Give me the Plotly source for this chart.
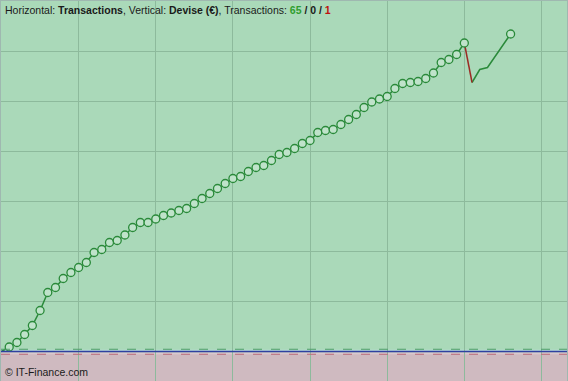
import plotly.graph_objects as go

# Data: equity curve per transaction (value in €, arbitrary units)
transactions = list(range(0, 67))
equity = [0, 9, 18, 34, 52, 82, 118, 128, 146, 158, 168, 178, 198, 204, 218, 222,
          233, 248, 258, 258, 265, 272, 277, 282, 286, 296, 306, 316, 326, 336,
          346, 350, 360, 368, 372, 382, 394, 398, 406, 416, 422, 438, 442, 444,
          454, 464, 474, 488, 499, 505, 510, 526, 536, 538, 540, 546, 557, 578,
          584, 594, 617, 538, 564, 568, 591, 613, 635]
marker_idx = list(range(1, 61)) + [66]
loss_idx = [60, 61]
header_counts = {"win": 65, "even": 0, "loss": 1}

GREEN = "#2a8a3a"
RED = "#9b2b25"
BG = "#aad9b9"
PINK = "#cfbac0"
GRID = "#8dba9c"

fig = go.Figure()
# green segments
fig.add_trace(go.Scatter(x=transactions[:61], y=equity[:61], mode="lines",
                         line=dict(color=GREEN, width=1.5), hoverinfo="skip"))
fig.add_trace(go.Scatter(x=transactions[61:], y=equity[61:], mode="lines",
                         line=dict(color=GREEN, width=1.5), hoverinfo="skip"))
# losing transaction
fig.add_trace(go.Scatter(x=[transactions[i] for i in loss_idx],
                         y=[equity[i] for i in loss_idx], mode="lines",
                         line=dict(color=RED, width=1.5), hoverinfo="skip"))
# markers
fig.add_trace(go.Scatter(x=[transactions[i] for i in marker_idx],
                         y=[equity[i] for i in marker_idx], mode="markers",
                         marker=dict(symbol="circle", size=8, color="#bfe3ca",
                                     line=dict(color=GREEN, width=1.3)),
                         hoverinfo="skip"))

shapes = [
    dict(type="rect", xref="paper", yref="y", x0=0, x1=1, y0=-70, y1=-2,
         fillcolor=PINK, line=dict(width=0), layer="below"),
    dict(type="rect", xref="paper", yref="y", x0=0, x1=1, y0=-2, y1=-5.5,
         fillcolor="#dac9ce", line=dict(width=0), layer="below"),
    dict(type="rect", xref="paper", yref="y", x0=0, x1=1, y0=0, y1=3.5,
         fillcolor="#bcdcdc", line=dict(width=0), layer="below"),
    dict(type="line", xref="paper", yref="y", x0=0, x1=1, y0=4.5, y1=4.5,
         line=dict(color="#4f9e68", width=1, dash="dash")),
    dict(type="line", xref="paper", yref="y", x0=0, x1=1, y0=-5.5, y1=-5.5,
         line=dict(color="#b86a78", width=1, dash="dash")),
    dict(type="line", xref="paper", yref="y", x0=0, x1=1, y0=0, y1=0,
         line=dict(color="#3040a0", width=1.5)),
]

header = ("Horizontal: <b>Transactions</b>, Vertical: <b>Devise (€)</b>, Transactions: "
          f"<b><span style='color:#2f9e2f'>{header_counts['win']}</span> / "
          f"{header_counts['even']} / "
          f"<span style='color:#c01010'>{header_counts['loss']}</span></b>")

fig.update_layout(
    width=568, height=381,
    margin=dict(l=1, r=1, t=1, b=0),
    paper_bgcolor="#9fb8b0",
    plot_bgcolor=BG,
    showlegend=False,
    shapes=shapes,
    font=dict(family="Liberation Sans, Arial, sans-serif", size=10.5, color="#1a1a1a"),
    annotations=[
        dict(text=header, xref="paper", yref="paper", x=0.004, y=0.997,
             xanchor="left", yanchor="top", showarrow=False,
             font=dict(size=10.5, color="#1a1a1a")),
        dict(text="© IT-Finance.com", xref="paper", yref="paper", x=0.004, y=0.002,
             xanchor="left", yanchor="bottom", showarrow=False,
             font=dict(size=10.5, color="#1a1a1a")),
    ],
)
fig.update_xaxes(range=[-0.065, 73.31], dtick=10, tick0=0, showgrid=True,
                 gridcolor=GRID, gridwidth=1, zeroline=False, showticklabels=False,
                 ticks="", showline=False, fixedrange=True)
fig.update_yaxes(range=[-59, 701], dtick=100, tick0=0, showgrid=True,
                 gridcolor=GRID, gridwidth=1, zeroline=False, showticklabels=False,
                 ticks="", showline=False, fixedrange=True)

fig.write_html("out.html", config={"displayModeBar": False},
               post_script="document.body.style.margin='0';document.body.style.overflow='hidden';")
